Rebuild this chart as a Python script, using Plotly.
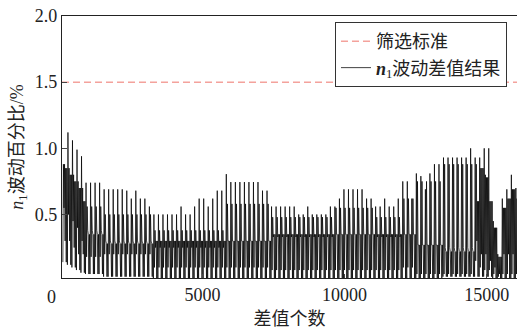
import plotly.graph_objects as go

# ---- data ----
x_range = [56, 16065]
x_ticks = [5000, 10000, 15000]
x_ticktext = ["5000", "10000", "15000"]
y_ticks = [0.5, 1.0, 1.5, 2.0]
threshold = 1.5
first_spike = 106        # index of first spike
cycle_len = 159.2        # samples between spikes

# peak value of each spike (one per cycle)
peak_tops = [0.88, 1.12, 1.06, 0.99, 0.94,
             0.74, 0.74, 0.74, 0.74,
             0.69, 0.69, 0.69, 0.69, 0.69,
             0.68, 0.62, 0.68, 0.62, 0.62, 0.56,
             0.50, 0.50, 0.50, 0.50, 0.50, 0.50,
             0.56, 0.50, 0.50, 0.56, 0.62, 0.62, 0.56, 0.62, 0.68, 0.68,
             0.805,
             0.745, 0.745, 0.745, 0.745, 0.745, 0.745, 0.745,
             0.68, 0.68,
             0.56, 0.56, 0.56, 0.56, 0.56, 0.56,
             0.50, 0.50, 0.56,
             0.50, 0.50, 0.50, 0.50,
             0.56, 0.56, 0.62,
             0.69, 0.69, 0.69, 0.69, 0.69,
             0.62, 0.62, 0.56, 0.56, 0.62, 0.56, 0.56, 0.62,
             0.75, 0.75, 0.62,
             0.81, 0.79, 0.69, 0.81, 0.88, 0.88,
             0.93, 0.93, 0.93, 0.93, 0.93, 0.93,
             1.00, 0.93, 0.93, 1.00, 1.00,
             0.45, 0.20, 0.62, 0.69, 0.80, 0.70]

# band levels between spikes, per segment (segment starts at cycle seg_first)
seg_first = [0, 1, 2, 3, 4, 5, 9, 20, 36, 46, 60, 69, 75, 78, 84, 91, 92, 93, 94, 95, 96, 97, 98, 99, 100]
gray_hi = [0.88, 0.85, 0.80, 0.75, 0.70, 0.56, 0.50, 0.38, 0.58, 0.48, 0.55, 0.48, 0.62, 0.75, 0.88, 0.88, 0.85, 0.80, 0.60, 0.40, 0.18, 0.55, 0.62, 0.69, 0.62]
gray_lo = [0.30, 0.30, 0.25, 0.20, 0.20, 0.38, 0.30, 0.25, 0.30, 0.33, 0.35, 0.33, 0.35, 0.27, 0.25, 0.30, 0.20, 0.20, 0.15, 0.10, 0.05, 0.20, 0.20, 0.20, 0.20]
dark_hi = [0.85, 0.80, 0.75, 0.70, 0.60, 0.35, 0.28, 0.30, 0.30, 0.35, 0.35, 0.35, 0.35, 0.27, 0.22, 0.60, 0.85, 0.78, 0.60, 0.40, 0.18, 0.55, 0.62, 0.69, 0.62]
dark_lo = [0.55, 0.50, 0.45, 0.40, 0.30, 0.18, 0.20, 0.10, 0.10, 0.08, 0.08, 0.08, 0.10, 0.05, 0.05, 0.15, 0.10, 0.08, 0.08, 0.05, 0.03, 0.05, 0.05, 0.05, 0.05]
floor_v = [0.14, 0.12, 0.10, 0.08, 0.06, 0.05, 0.03, 0.02, 0.02, 0.02, 0.02, 0.02, 0.02, 0.02, 0.03, 0.03, 0.03, 0.03, 0.03, 0.02, 0.02, 0.02, 0.02, 0.02, 0.02]

# order in which the levels are visited inside one cycle
PATTERN = ["floor", "top", "dark_lo", "gray_hi", "gray_lo", "dark_hi", "floor", "dark_hi"]

xs, ys = [], []
step = cycle_len / len(PATTERN)
seg = 0
for k, top in enumerate(peak_tops):
    while seg + 1 < len(seg_first) and seg_first[seg + 1] <= k:
        seg += 1
    lv = {"top": top, "gray_hi": gray_hi[seg], "gray_lo": gray_lo[seg],
          "dark_hi": dark_hi[seg], "dark_lo": dark_lo[seg], "floor": floor_v[seg]}
    base = first_spike + k * cycle_len - step
    for i, name in enumerate(PATTERN):
        xs.append(base + i * step)
        ys.append(lv[name])

FONT = "Liberation Serif, Times New Roman, Noto Sans CJK SC, serif"

fig = go.Figure()
fig.add_trace(go.Scatter(x=x_range, y=[threshold, threshold], mode="lines",
                         name="筛选标准",
                         line=dict(color="#f4a29c", width=1.5, dash="7px,4px")))
fig.add_trace(go.Scatter(x=xs, y=ys, mode="lines",
                         name="<i><b>n</b></i><sub>1</sub>波动差值结果",
                         line=dict(color="#000000", width=0.75, simplify=False)))

fig.update_layout(
    width=517, height=333,
    margin=dict(l=62, r=0, t=16, b=55),
    paper_bgcolor="white", plot_bgcolor="white",
    font=dict(family=FONT, size=18, color="#222"),
    showlegend=True,
    legend=dict(x=0.978, xanchor="right", y=0.977, yanchor="top",
                bgcolor="white", bordercolor="#333", borderwidth=1,
                font=dict(size=18, family=FONT), itemwidth=30, tracegroupgap=0),
    xaxis=dict(range=x_range, tickvals=x_ticks, ticktext=x_ticktext,
               showline=True, linecolor="#222", linewidth=1.2, mirror=True,
               ticks="inside", ticklen=4, showgrid=False, zeroline=False,
               tickfont=dict(family=FONT, size=18),
               title=dict(text="差值个数", standoff=8, font=dict(family=FONT, size=18))),
    yaxis=dict(range=[0.02, 2.0], tickvals=y_ticks, tickformat=".1f",
               showline=True, linecolor="#222", linewidth=1.2, mirror=False,
               ticks="inside", ticklen=5, showgrid=False, zeroline=False,
               tickfont=dict(family=FONT, size=18),
               title=dict(text="<i>n</i><sub>1</sub>波动百分比/%", standoff=6,
                          font=dict(family=FONT, size=18))),
    annotations=[dict(text="0", xref="paper", yref="paper", x=-0.0226, y=-0.0725,
                      xanchor="center", yanchor="middle", showarrow=False,
                      font=dict(size=18, family=FONT))],
)

fig.write_html("out.html")
